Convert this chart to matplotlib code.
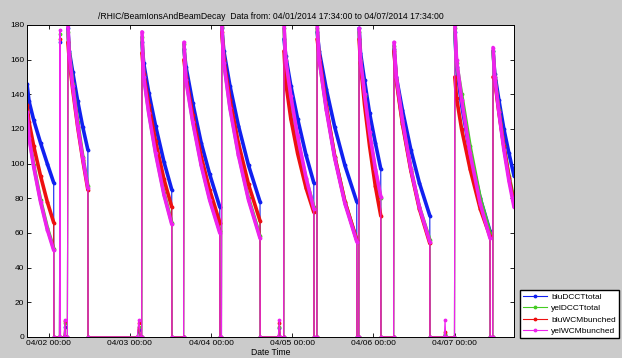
import matplotlib
matplotlib.use('Agg')
import matplotlib.pyplot as plt
import matplotlib.dates as mdates
import numpy as np
from datetime import datetime, timedelta

plt.rcParams['font.family'] = ['Liberation Sans', 'DejaVu Sans']

start = datetime(2014, 4, 1, 17, 34)
end = datetime(2014, 4, 7, 17, 34)

# hours after start, one list per fill
fill_hours = [
    [0.0, 0.6, 2.0, 4.0, 6.0, 7.9],
    [12.1, 12.5, 13.5, 15.0, 16.5, 18.0],
    [34.0, 34.5, 36.0, 38.0, 40.5, 42.8],
    [46.4, 47.0, 49.0, 51.5, 54.0, 57.0],
    [57.6, 58.2, 60.0, 62.5, 65.5, 68.9],
    [76.0, 76.5, 78.0, 80.0, 82.5, 84.8],
    [85.8, 86.4, 88.5, 91.0, 94.0, 97.5],
    [98.2, 98.6, 99.8, 101.3, 103.0, 104.6],
    [108.5, 109.2, 111.0, 113.5, 116.0, 119.1],
    [126.5, 127.0, 128.5, 131.0, 134.0, 136.9],
    [137.8, 138.3, 139.5, 141.0, 142.5, 144.0],
]
blu_dcct = [
    [146, 136, 125, 112, 100, 89],
    [178, 165, 153, 136, 121, 108],
    [170, 158, 141, 122, 101, 85],
    [166, 156, 135, 112, 94, 75],
    [178, 165, 145, 122, 99, 78],
    [172, 162, 145, 126, 105, 89],
    [176, 165, 143, 121, 99, 78],
    [178, 164, 148, 129, 112, 97],
    [166, 150, 131, 108, 89, 70],
    [176, 156, 134, 106, 80, 61],
    [165, 152, 137, 120, 106, 93],
]
yel_dcct = [
    [131, 116, 99, 79, 63, 51],
    [176, 164, 146, 124, 104, 87],
    [173, 151, 130, 107, 83, 66],
    [169, 149, 125, 100, 80, 61],
    [179, 159, 133, 106, 80, 58],
    [178, 159, 137, 114, 91, 75],
    [178, 160, 132, 104, 78, 56],
    [176, 160, 139, 116, 96, 80],
    [168, 149, 124, 97, 75, 56],
    [178, 158, 140, 110, 80, 60],
    [165, 150, 131, 110, 93, 79],
]
blu_wcm = [
    [134, 124, 110, 93, 78, 66],
    [170, 160, 143, 121, 102, 85],
    [164, 152, 134, 113, 91, 75],
    [160, 150, 128, 104, 85, 66],
    [176, 160, 137, 112, 88, 67],
    [165, 147, 126, 106, 86, 72],
    [172, 162, 133, 104, 78, 56],
    [172, 158, 134, 110, 87, 70],
    [165, 148, 123, 96, 74, 54],
    [150, 138, 120, 97, 74, 58],
    [150, 148, 130, 110, 92, 77],
]
yel_wcm = [
    [130, 115, 98, 78, 62, 50],
    [180, 163, 145, 122, 103, 86],
    [176, 150, 129, 106, 82, 65],
    [170, 148, 124, 99, 79, 60],
    [180, 158, 132, 105, 79, 57],
    [180, 160, 139, 116, 92, 74],
    [180, 160, 131, 103, 77, 55],
    [178, 160, 140, 118, 97, 81],
    [170, 150, 125, 97, 75, 55],
    [180, 160, 137, 106, 77, 57],
    [167, 150, 130, 108, 90, 75],
]

# beam off readings (all zero) and injection blips between fills
off_hours = [7.95, 9.6, 9.9, 11.0, 11.4, 11.95, 18.05, 32.6, 33.5, 33.9,
             42.85, 46.3, 57.05, 57.5, 68.95, 74.3, 74.9, 75.9, 84.85, 85.7,
             97.55, 98.1, 104.65, 108.4, 119.15, 123.4, 123.8, 126.4,
             136.95, 137.7]
blip_hours = [9.75, 11.2, 33.1, 74.6, 123.6]
blu_dcct_blips = [170, 6, 4, 5, 1]
yel_dcct_blips = [175, 8, 6, 6, 2]
blu_wcm_blips = [172, 9, 8, 8, 3]
yel_wcm_blips = [177, 10, 10, 10, 10]

names = ['bluDCCTtotal', 'yelDCCTtotal', 'bluWCMbunched', 'yelWCMbunched']
colors = ['#1020f0', '#44cc22', '#ee1010', '#ee22ee']
fills = [blu_dcct, yel_dcct, blu_wcm, yel_wcm]
blips = [blu_dcct_blips, yel_dcct_blips, blu_wcm_blips, yel_wcm_blips]


def to_dates(hours):
    return [start + timedelta(hours=float(x)) for x in hours]


fig = plt.figure(figsize=(6.22, 3.58), dpi=100, facecolor='#cbcbcb')
ax = fig.add_axes([0.0434, 0.0587, 0.783, 0.8715])

handles = []
for name, color, vals, bl in zip(names, colors, fills, blips):
    h = np.concatenate([np.array(x, float) for x in fill_hours] + [off_hours, blip_hours])
    v = np.concatenate([np.array(x, float) for x in vals] + [np.zeros(len(off_hours)), bl])
    order = np.argsort(h, kind='stable')
    line, = ax.plot(to_dates(h[order]), v[order], color=color, lw=0.8,
                    marker='.', ms=3.5, label=name)
    handles.append(line)
    for fh, fv in zip(fill_hours, vals):
        ax.plot(to_dates(fh), fv, color=color, lw=2.6,
                solid_capstyle='round', solid_joinstyle='round')

ax.set_xlim(start, end)
ax.set_ylim(0, 180)
ax.set_yticks(range(0, 181, 20))
ax.xaxis.set_major_locator(mdates.DayLocator())
ax.xaxis.set_major_formatter(mdates.DateFormatter('%m/%d %H:%M'))
ax.tick_params(direction='in', top=True, right=True, labelsize=6, length=3,
               width=0.6, pad=2)
for s in ax.spines.values():
    s.set_linewidth(0.7)

ax.set_title('/RHIC/BeamIonsAndBeamDecay  Data from: 04/01/2014 17:34:00 to 04/07/2014 17:34:00',
             fontsize=6.2, pad=4)
ax.set_xlabel('Date Time', fontsize=6.2, labelpad=1)

fig.legend(handles=handles, loc='lower right', bbox_to_anchor=(619 / 622, 20 / 358),
           fontsize=6, fancybox=False, edgecolor='black', framealpha=1,
           borderpad=0.4, labelspacing=0.4, handlelength=2.8, handletextpad=0.5,
           borderaxespad=0)

fig.savefig('out.png', dpi=100, facecolor=fig.get_facecolor())
